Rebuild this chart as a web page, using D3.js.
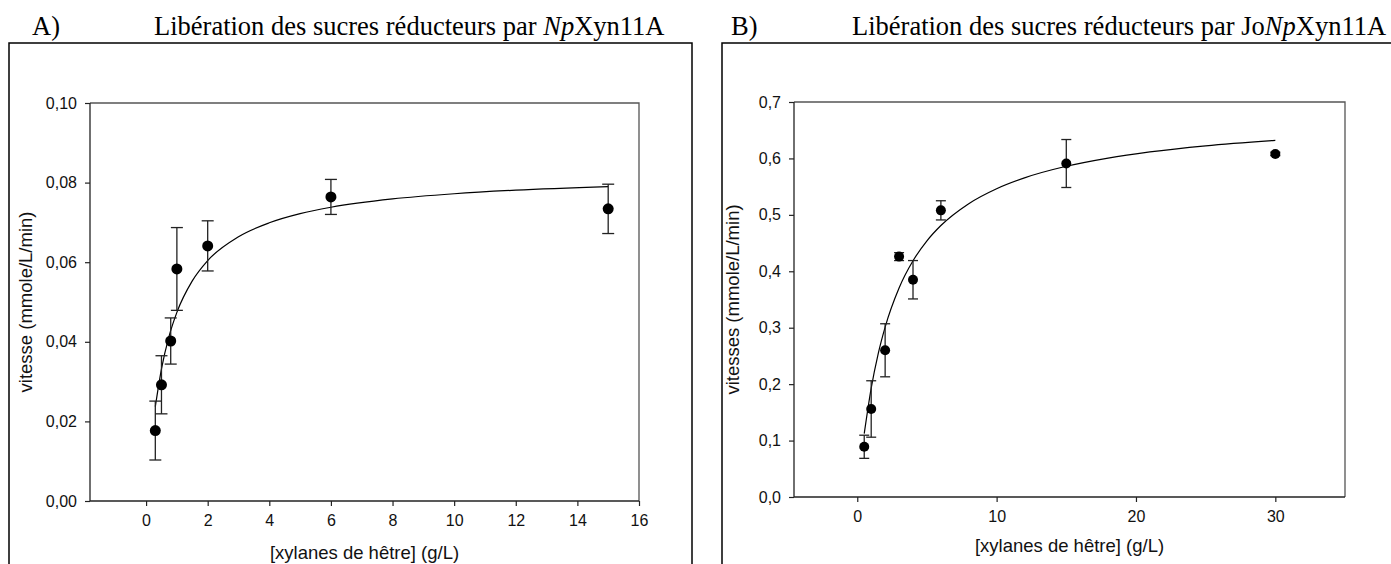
<!DOCTYPE html>
<html>
<head>
<meta charset="utf-8">
<script src="https://cdn.jsdelivr.net/npm/d3@7"></script>
<style>
  html, body { margin: 0; padding: 0; background: #fff; }
  svg { display: block; }
  .tick text { font-family: "Liberation Sans", Arial, sans-serif; }
</style>
</head>
<body>
<svg id="chart" width="1391" height="564"></svg>
<script>
// ---------- Data ----------
// Panel A : NpXyn11A
const concA   = [0.3, 0.5, 0.8, 1, 2, 6, 15];
const rateA   = [0.0177, 0.0292, 0.0402, 0.0583, 0.0641, 0.0764, 0.0734];
const errA    = [0.0074, 0.0073, 0.0058, 0.0104, 0.0063, 0.0044, 0.0062];
const fitXA   = [0.3, 0.5, 0.75, 1, 1.5, 2, 3, 4, 5, 6, 8, 10, 12, 15];
const fitYA   = [0.0237, 0.0332, 0.0415, 0.0474, 0.0553, 0.0604, 0.0664, 0.0699, 0.0722, 0.0738, 0.0759, 0.0772, 0.0781, 0.0790];
const xTicksA = [0, 2, 4, 6, 8, 10, 12, 14, 16];
const yTicksA = [0, 0.02, 0.04, 0.06, 0.08, 0.10];

// Panel B : JoNpXyn11A
const concB   = [0.5, 1, 2, 3, 4, 6, 15, 30];
const rateB   = [0.089, 0.156, 0.260, 0.426, 0.385, 0.508, 0.591, 0.608];
const errB    = [0.0205, 0.050, 0.047, 0.007, 0.034, 0.017, 0.0425, 0.003];
const fitXB   = [0.5, 1, 1.5, 2, 3, 4, 5, 6, 8, 10, 12, 15, 18, 21, 25, 30];
const fitYB   = [0.1122, 0.1929, 0.2537, 0.3011, 0.3704, 0.4186, 0.4540, 0.4811, 0.5199, 0.5464, 0.5656, 0.5861, 0.6007, 0.6116, 0.6224, 0.6321];
const xTicksB = [0, 10, 20, 30];
const yTicksB = [0, 0.1, 0.2, 0.3, 0.4, 0.5, 0.6, 0.7];

const xLabel = "[xylanes de hêtre] (g/L)";

const svg = d3.select("#chart");
const serif = "'Liberation Serif', 'Times New Roman', serif";
const sans = "'Liberation Sans', Arial, sans-serif";

function panel(cfg) {
  const g = svg.append("g");
  // outer frame
  g.append("rect")
    .attr("x", cfg.box[0]).attr("y", cfg.box[1])
    .attr("width", cfg.box[2]).attr("height", cfg.box[3])
    .attr("fill", "none").attr("stroke", "#000").attr("stroke-width", 1.5);

  // titles
  g.append("text").attr("x", cfg.letterX).attr("y", 35)
    .attr("font-family", serif).attr("font-size", 26.5).text(cfg.letter);
  const t = g.append("text").attr("x", cfg.titleX).attr("y", 35)
    .attr("font-family", serif).attr("font-size", 26.5);
  t.append("tspan").text(cfg.titlePre);
  t.append("tspan").attr("font-style", "italic").text("Np");
  t.append("tspan").text("Xyn11A");

  const x = d3.scaleLinear().domain(cfg.xDomain).range([cfg.left, cfg.right]);
  const y = d3.scaleLinear().domain(cfg.yDomain).range([cfg.bottom, cfg.top]);

  // top and right frame of plot
  g.append("path")
    .attr("d", `M${cfg.left},${cfg.top}H${cfg.right}V${cfg.bottom}`)
    .attr("fill", "none").attr("stroke", "#555").attr("stroke-width", 1.3);

  const xAxis = g.append("g").attr("transform", `translate(0,${cfg.bottom})`)
    .call(d3.axisBottom(x).tickValues(cfg.xTicks).tickSize(5).tickPadding(9)
      .tickFormat(d => String(d)));
  const yAxis = g.append("g").attr("transform", `translate(${cfg.left},0)`)
    .call(d3.axisLeft(y).tickValues(cfg.yTicks).tickSize(5).tickPadding(8)
      .tickFormat(d => d3.format(cfg.yFmt)(d).replace(".", ",")));
  [xAxis, yAxis].forEach(a => {
    a.select(".domain").attr("stroke", "#222").attr("stroke-width", 1.3);
    a.selectAll(".tick line").attr("stroke", "#222").attr("stroke-width", 1.2);
    a.selectAll(".tick text").attr("font-size", 16).attr("fill", "#111");
  });
  xAxis.select(".domain").attr("d", `M${cfg.left},0H${cfg.right}`);
  yAxis.select(".domain").attr("d", `M0,${cfg.bottom}V${cfg.top}`);

  // axis labels
  g.append("text")
    .attr("x", (cfg.left + cfg.right) / 2).attr("y", cfg.xLabelY)
    .attr("text-anchor", "middle").attr("font-family", sans).attr("font-size", 18.5)
    .attr("fill", "#111")
    .text(xLabel);
  g.append("text")
    .attr("transform", `translate(${cfg.yLabelX},${(cfg.top + cfg.bottom) / 2}) rotate(-90)`)
    .attr("text-anchor", "middle").attr("font-family", sans).attr("font-size", 18.5)
    .attr("fill", "#111")
    .text(cfg.yLabel);

  // fitted curve
  const fit = cfg.fitX.map((d, i) => [d, cfg.fitY[i]]);
  g.append("path").datum(fit)
    .attr("d", d3.line().x(d => x(d[0])).y(d => y(d[1])).curve(d3.curveMonotoneX))
    .attr("fill", "none").attr("stroke", "#000").attr("stroke-width", 1.2);

  // error bars + points
  const pts = cfg.conc.map((d, i) => ({ x: d, y: cfg.rate[i], e: cfg.err[i] }));
  const eb = g.append("g").attr("stroke", "#222").attr("stroke-width", 1.3);
  pts.forEach(p => {
    const cx = x(p.x), y1 = y(p.y + p.e), y2 = y(p.y - p.e);
    eb.append("line").attr("x1", cx).attr("x2", cx).attr("y1", y1).attr("y2", y2);
    eb.append("line").attr("x1", cx - cfg.cap).attr("x2", cx + cfg.cap).attr("y1", y1).attr("y2", y1);
    eb.append("line").attr("x1", cx - cfg.cap).attr("x2", cx + cfg.cap).attr("y1", y2).attr("y2", y2);
  });
  g.append("g").selectAll("circle").data(pts).join("circle")
    .attr("cx", d => x(d.x)).attr("cy", d => y(d.y))
    .attr("r", cfg.r).attr("fill", "#000");
}

panel({
  box: [9, 43, 683, 540],
  letter: "A)", letterX: 32, titleX: 154,
  titlePre: "Libération des sucres réducteurs par ",
  left: 90, right: 639, top: 103, bottom: 501,
  xDomain: [-1.82, 16], yDomain: [0, 0.10],
  xTicks: xTicksA, yTicks: yTicksA, yFmt: ".2f",
  xLabelY: 559, yLabelX: 32,
  yLabel: "vitesse (mmole/L/min)",
  conc: concA, rate: rateA, err: errA, fitX: fitXA, fitY: fitYA,
  cap: 6, r: 5.5
});

panel({
  box: [722, 43, 700, 540],
  letter: "B)", letterX: 731, titleX: 852,
  titlePre: "Libération des sucres réducteurs par Jo",
  left: 794, right: 1345, top: 102, bottom: 497,
  xDomain: [-4.54, 35], yDomain: [0, 0.7],
  xTicks: xTicksB, yTicks: yTicksB, yFmt: ".1f",
  xLabelY: 551.5, yLabelX: 738.5,
  yLabel: "vitesses (mmole/L/min)",
  conc: concB, rate: rateB, err: errB, fitX: fitXB, fitY: fitYB,
  cap: 5, r: 5
});
</script>
</body>
</html>
